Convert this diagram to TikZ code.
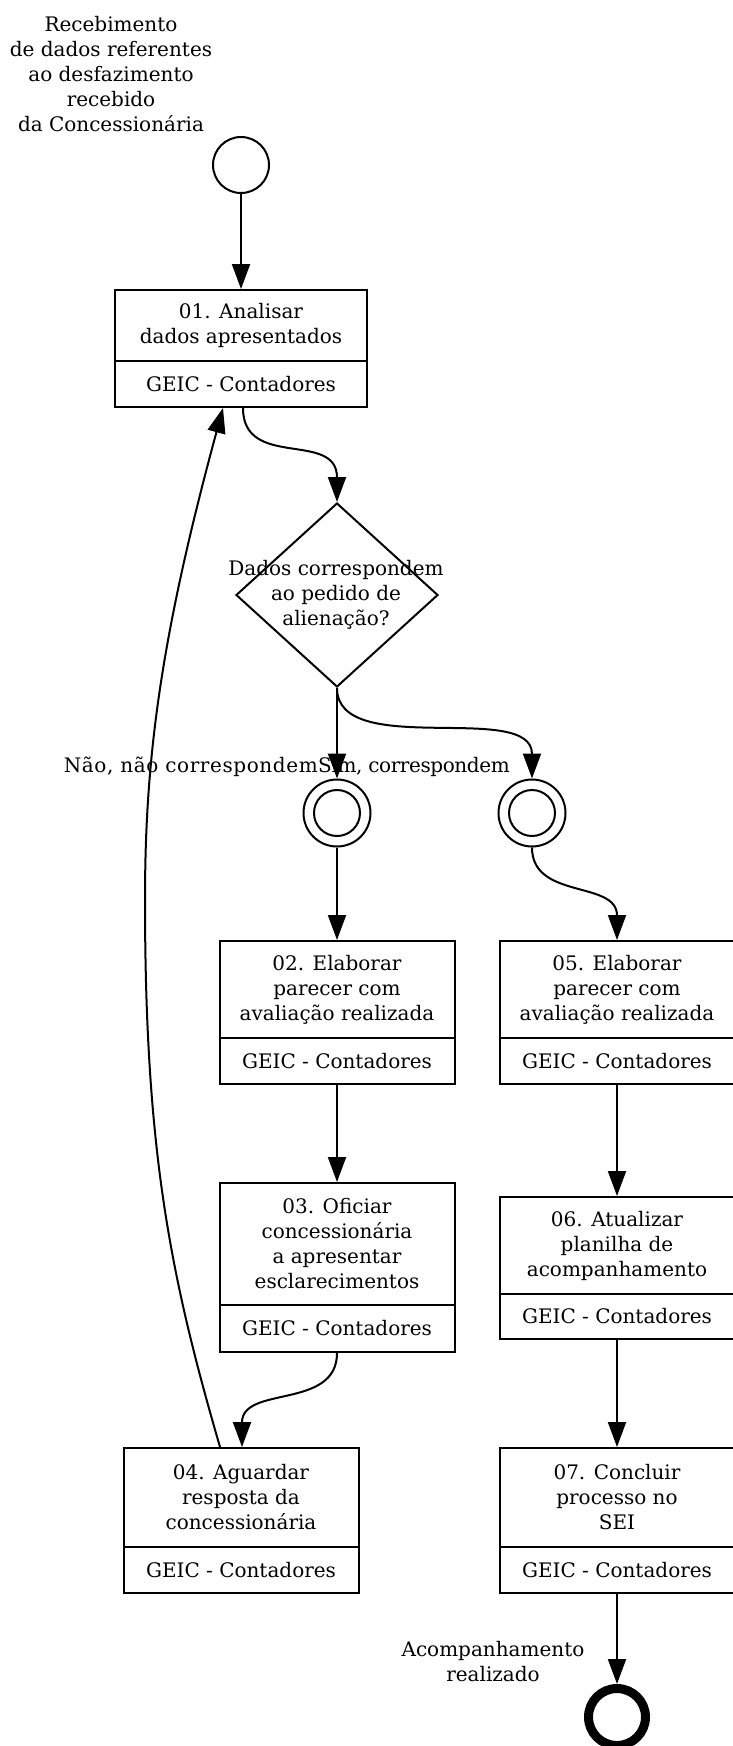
\documentclass[tikz,border=0pt]{standalone}
\usepackage{fontspec}
\setmainfont{DejaVu Serif}
\usetikzlibrary{arrows.meta,shapes.geometric}

\newcommand{\mytask}[7]{%
  \node[boxframe, minimum width=#6pt, minimum height={#5pt-#3pt}] (#1) at (#2,{(#3+#5)/2}) {};
  \draw[boxline] ({#2-#6/2},#4) -- ({#2+#6/2},#4);
  \node[boxtext] (#1-t) at (#2,{(#3+#4)/2}) {#7};
  \node[boxtext] (#1-r) at (#2,{(#4+#5)/2}) {GEIC - Contadores};
}

\begin{document}
\begin{tikzpicture}[x=1pt,y=-1pt,
  every node/.style={font=\fontsize{20pt}{25pt}\selectfont},
  boxframe/.style={draw, line width=2pt, rectangle, inner sep=0pt},
  boxline/.style={line width=2pt},
  boxtext/.style={align=center, inner sep=0pt},
  labeltext/.style={align=center, inner sep=0pt},
  startev/.style={draw, circle, line width=2pt, minimum size=56pt, inner sep=0pt},
  interev/.style={draw, circle, line width=2pt, minimum size=#1, inner sep=0pt},
  endev/.style={draw, circle, line width=9pt, minimum size=57pt, inner sep=0pt},
  gateway/.style={draw, diamond, line width=2pt, minimum width=202pt, minimum height=184pt, inner sep=0pt},
  flow/.style={line width=2pt, -{Triangle[length=25pt,width=18pt]}}
]
\useasboundingbox (0,0) rectangle (732,1746);

% start
\node[labeltext] (starttxt) at (111,74) {Recebimento\\de dados referentes\\ao desfazimento\\recebido\\da Concessionária};
\node[startev] (start) at (241,165) {};

% task 01
\mytask{b1}{241}{290}{361}{407}{252}{01. Analisar\\dados apresentados}

% gateway
\node[gateway] (dec) at (337,595) {};
\node[boxtext] (dec-t) at (336,595) {Dados correspondem\\ao pedido de\\alienação?};

% intermediate events
\node[interev=67pt] (c1) at (337,813) {};
\node[interev=46pt] (c1i) at (337,813) {};
\node[interev=67pt] (c2) at (532,813) {};
\node[interev=46pt] (c2i) at (532,813) {};

\node[labeltext, anchor=east, font=\fontsize{20pt}{25pt}\selectfont\addfontfeature{LetterSpace=3}] (lno) at (318,767) {Não, não correspondem};
\node[labeltext, anchor=west, font=\fontsize{20pt}{25pt}\selectfont\addfontfeature{LetterSpace=-2}] (lyes) at (318,767) {Sim, correspondem};

% tasks
\mytask{b2}{337}{941}{1038}{1084}{235}{02. Elaborar\\parecer com\\avaliação realizada}
\mytask{b3}{337}{1183}{1305}{1352}{235}{03. Oficiar\\concessionária\\a apresentar\\esclarecimentos}
\mytask{b4}{241}{1448}{1547}{1593}{235}{04. Aguardar\\resposta da\\concessionária}
\mytask{b5}{617}{941}{1038}{1084}{234}{05. Elaborar\\parecer com\\avaliação realizada}
\mytask{b6}{617}{1197}{1294}{1339}{234}{06. Atualizar\\planilha de\\acompanhamento}
\mytask{b7}{617}{1448}{1547}{1593}{234}{07. Concluir\\processo no\\SEI}

% end
\node[endev] (end) at (617,1717) {};
\node[labeltext] (endtxt) at (493,1662) {Acompanhamento\\realizado};

% connectors
\draw[flow] (start) -- (b1);
\draw[flow] ([xshift=2pt]b1.south) .. controls (243,470) and (337,430) .. (dec.north);
\draw[flow] (dec.south) -- (c1);
\draw[flow] (dec.south) .. controls (337,760) and (532,700) .. (c2.north);
\draw[flow] (c1) -- (b2);
\draw[flow] (c2.south) .. controls (532,900) and (617,880) .. (b5.north);
\draw[flow] (b2) -- (b3);
\draw[flow] (b5) -- (b6);
\draw[flow] (b3.south) .. controls (337,1410) and (242,1385) .. ([xshift=1pt]b4.north);
\draw[flow] ([xshift=-21pt]b4.north) .. controls (170,1275) and (145,1150) .. (145,900)
   .. controls (145,760) and (160,640) .. ([xshift=-18pt]b1.south);
\draw[flow] (b6) -- (b7);
\draw[flow] (b7) -- (end);
\end{tikzpicture}
\end{document}
